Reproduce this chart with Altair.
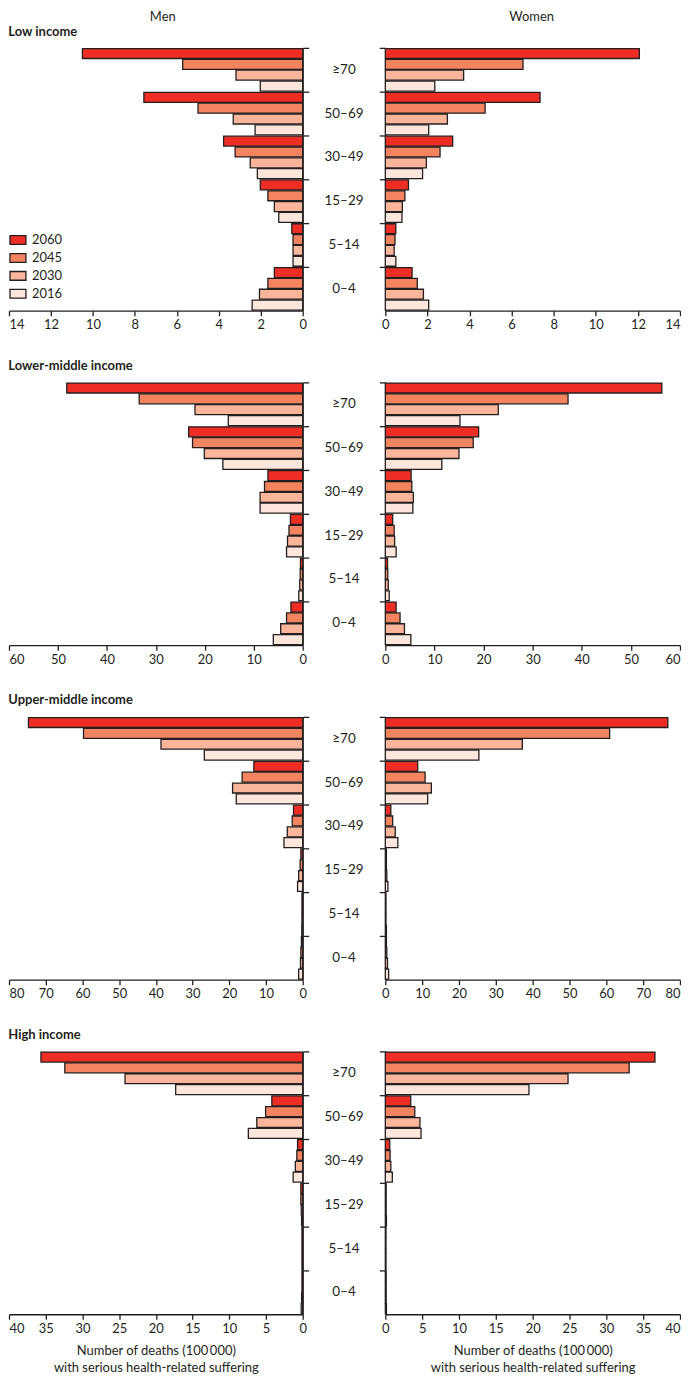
import altair as alt
import pandas as pd

ages = ["≥70", "50–69", "30–49", "15–29", "5–14", "0–4"]
years = ["2060", "2045", "2030", "2016"]
year_colors = ["#ee2e24", "#f4845f", "#fab59b", "#fee6dc"]
regions = ["Low income", "Lower-middle income", "Upper-middle income", "High income"]
axis_max = [14, 60, 80, 40]
axis_step = [2, 10, 10, 5]

# values: number of deaths (100 000), per year, ordered as `ages`
low_men = {
    "2060": [10.5, 7.57, 3.77, 2.02, 0.52, 1.35],
    "2045": [5.72, 4.99, 3.22, 1.66, 0.46, 1.66],
    "2030": [3.18, 3.31, 2.50, 1.35, 0.46, 2.06],
    "2016": [2.02, 2.27, 2.16, 1.14, 0.46, 2.41],
}
low_women = {
    "2060": [12.07, 7.35, 3.2, 1.10, 0.5, 1.27],
    "2045": [6.54, 4.74, 2.6, 0.93, 0.46, 1.52],
    "2030": [3.72, 2.95, 1.95, 0.81, 0.42, 1.81],
    "2016": [2.35, 2.06, 1.77, 0.79, 0.5, 2.06],
}
lowmid_men = {
    "2060": [48.2, 23.3, 7.1, 2.5, 0.45, 2.4],
    "2045": [33.4, 22.5, 7.8, 2.8, 0.5, 3.3],
    "2030": [22.0, 20.1, 8.7, 3.1, 0.6, 4.5],
    "2016": [15.2, 16.3, 8.7, 3.3, 0.8, 6.0],
}
lowmid_women = {
    "2060": [56.3, 19.0, 5.25, 1.5, 0.45, 2.2],
    "2045": [37.2, 17.9, 5.4, 1.8, 0.5, 3.0],
    "2030": [23.0, 15.0, 5.7, 1.9, 0.6, 3.9],
    "2016": [15.2, 11.5, 5.6, 2.2, 0.8, 5.2],
}
upmid_men = {
    "2060": [74.7, 13.3, 2.5, 0.5, 0.2, 0.35],
    "2045": [59.7, 16.5, 2.85, 0.7, 0.2, 0.5],
    "2030": [38.6, 19.1, 4.2, 1.1, 0.2, 0.6],
    "2016": [26.8, 18.1, 5.1, 1.4, 0.25, 1.1],
}
upmid_women = {
    "2060": [76.7, 8.8, 1.5, 0.3, 0.1, 0.3],
    "2045": [60.9, 10.8, 2.0, 0.3, 0.1, 0.4],
    "2030": [37.2, 12.5, 2.7, 0.4, 0.1, 0.6],
    "2016": [25.4, 11.5, 3.4, 0.7, 0.3, 0.9],
}
high_men = {
    "2060": [35.65, 4.2, 0.7, 0.25, 0.1, 0.1],
    "2045": [32.4, 5.05, 0.8, 0.25, 0.1, 0.1],
    "2030": [24.2, 6.25, 1.0, 0.2, 0.1, 0.15],
    "2016": [17.3, 7.4, 1.3, 0.15, 0.1, 0.2],
}
high_women = {
    "2060": [36.6, 3.45, 0.6, 0.1, 0.05, 0.1],
    "2045": [33.1, 4.0, 0.65, 0.1, 0.05, 0.1],
    "2030": [24.8, 4.7, 0.75, 0.1, 0.05, 0.1],
    "2016": [19.5, 4.85, 0.95, 0.15, 0.05, 0.15],
}
men_values = [low_men, lowmid_men, upmid_men, high_men]
women_values = [low_women, lowmid_women, upmid_women, high_women]

FONT = "Lato"
INK = "#231f20"
LW, MW, RW, H = 295, 69, 296, 264
xtitle = ["Number of deaths (100\u2009000)", "with serious health-related suffering"]


def frame(vals):
    rows = []
    for y in years:
        for a, v in zip(ages, vals[y]):
            rows.append({"age": a, "year": y, "value": v})
    return pd.DataFrame(rows)


def side(i, men, last):
    xmax, step = axis_max[i], axis_step[i]
    outer = "left" if men else "right"
    axis_kw = dict(values=list(range(0, xmax + 1, step)), grid=False, tickSize=5,
                   labelPadding=3, format="d", labelFlush=False,
                   labelAlign={"expr": f"datum.value == {xmax} ? '{outer}' : 'center'"})
    if last:
        axis_kw.update(title=xtitle, titlePadding=9, titleLineHeight=18)
    else:
        axis_kw.update(title=None)
    color_kw = {}
    if i == 0 and men:
        color_kw["legend"] = alt.Legend(
            title=None, orient="none", legendX=0, legendY=184,
            symbolType="M-1,-0.55H1V0.55H-1Z", symbolSize=256,
            symbolStrokeColor=INK, symbolStrokeWidth=1.3, symbolOpacity=1,
            labelFont=FONT, labelFontSize=13, labelColor=INK,
            rowPadding=2, labelOffset=5)
    else:
        color_kw["legend"] = None
    ch = alt.Chart(frame(men_values[i] if men else women_values[i])).mark_bar(
        stroke=INK, strokeWidth=1.3, opacity=1
    ).encode(
        x=alt.X("value:Q", scale=alt.Scale(domain=[0, xmax], reverse=men, nice=False),
                axis=alt.Axis(**axis_kw)),
        y=alt.Y("age:N", sort=ages, scale=alt.Scale(paddingInner=0, paddingOuter=0),
                axis=alt.Axis(orient="right" if men else "left", labels=False, title=None,
                              bandPosition=0, tickSize=6, grid=False)),
        yOffset=alt.YOffset("year:N", sort=years,
                            scale=alt.Scale(paddingInner=0.08, paddingOuter=0.06)),
        color=alt.Color("year:N", sort=years,
                        scale=alt.Scale(domain=years, range=year_colors), **color_kw),
    ).properties(width=LW if men else RW, height=H)
    return ch


def mid():
    return alt.Chart(pd.DataFrame({"age": ages})).mark_text(
        font=FONT, fontSize=13.5, color=INK
    ).encode(
        y=alt.Y("age:N", sort=ages, axis=None, scale=alt.Scale(paddingInner=0, paddingOuter=0)),
        x=alt.value(MW / 2),
        text="age:N",
    ).properties(width=MW, height=H)


rows = []
for i, reg in enumerate(regions):
    last = i == len(regions) - 1
    row = alt.hconcat(side(i, True, last), mid(), side(i, False, last), spacing=0).properties(
        title=alt.TitleParams(text=reg, anchor="start", fontSize=13, fontWeight="bold",
                              font=FONT, color=INK, offset=8 if i == 0 else 9)
    ).resolve_scale(color="independent").resolve_legend(color="independent")
    rows.append(row)

HW = LW + MW + RW + 14
heads = pd.DataFrame({"sex": ["Men", "Women"], "pos": [154.5, 525]})
header = alt.Chart(heads).mark_text(font=FONT, fontSize=13, color=INK, baseline="top").encode(
    x=alt.X("pos:Q", scale=alt.Scale(domain=[0, HW], range=[0, HW]), axis=None),
    y=alt.value(0),
    text="sex:N",
).properties(width=HW, height=1)

body = alt.vconcat(*rows, spacing=28).resolve_scale(color="independent").resolve_legend(color="independent")

chart = alt.vconcat(header, body, spacing=2).resolve_scale(color="independent").resolve_legend(
    color="independent"
).properties(
    padding={"left": 0, "top": 0, "right": 0, "bottom": 0}
).configure_view(stroke=None).configure_axis(
    domainColor=INK, tickColor=INK, domainWidth=1.3, tickWidth=1.3,
    labelFont=FONT, labelFontSize=13, labelColor=INK,
    titleFont=FONT, titleFontSize=13, titleColor=INK, titleFontWeight="normal"
)

chart.save("out.html", embed_options={"renderer": "svg", "actions": False})
